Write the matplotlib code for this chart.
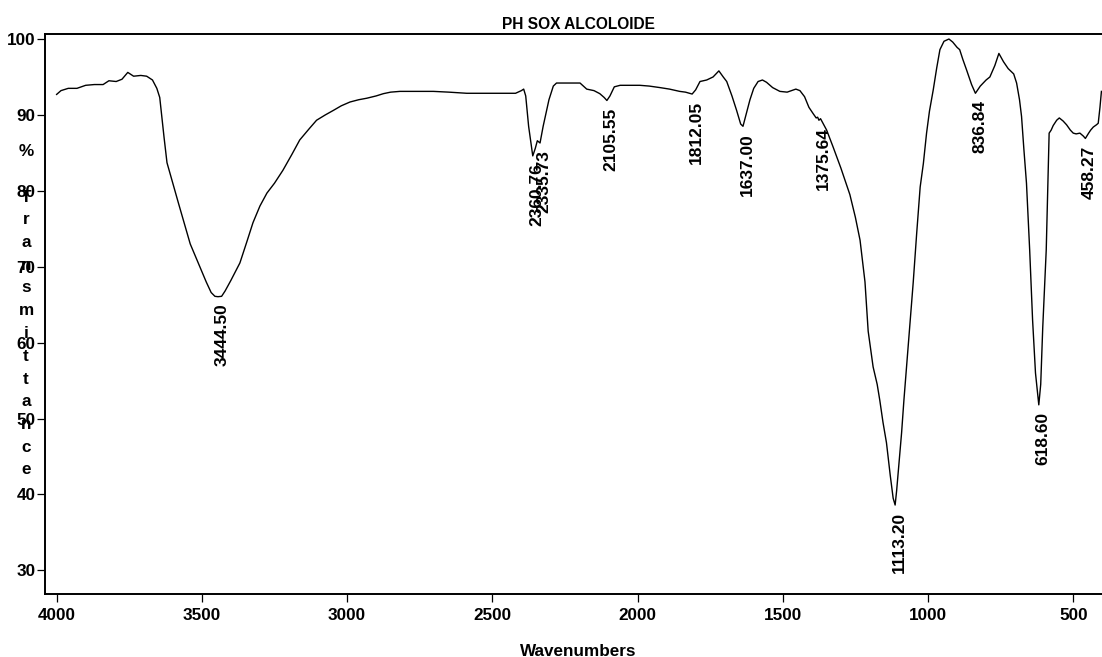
import matplotlib
matplotlib.use("Agg")
import matplotlib.pyplot as plt

# FT-IR spectrum: wavenumber (cm-1) and % transmittance
wavenumber = [
    4000, 3985, 3960, 3930, 3900, 3870, 3840, 3820, 3795, 3775, 3755, 3735,
    3710, 3690, 3670, 3655, 3645, 3630, 3620, 3600, 3580, 3564, 3540, 3507,
    3485, 3468, 3455, 3444.50, 3432, 3420, 3400, 3369, 3345, 3324, 3300, 3276,
    3250, 3221, 3190, 3163, 3130, 3105, 3075, 3047, 3020, 2990, 2960, 2932,
    2900, 2875, 2850, 2818, 2760, 2703, 2650, 2588, 2500, 2420, 2400, 2392,
    2385, 2375, 2360.76, 2352, 2345, 2335.73, 2325, 2305, 2290, 2279, 2240,
    2198, 2175, 2150, 2130, 2115, 2105.55, 2095, 2080, 2060, 2038, 1992, 1960,
    1923, 1890, 1855, 1835, 1812.05, 1800, 1785, 1762, 1740, 1720, 1705, 1693,
    1675, 1659, 1645, 1637.00, 1628, 1613, 1600, 1585, 1570, 1556, 1535, 1510,
    1485, 1470, 1455, 1441, 1425, 1410, 1396, 1385, 1380, 1375.64, 1370, 1360,
    1349, 1327, 1300, 1269, 1250, 1234, 1217, 1206, 1189, 1175, 1166, 1155,
    1143, 1130, 1120, 1113.20, 1108, 1098, 1091, 1083, 1074, 1060, 1051, 1039,
    1027, 1016, 1005, 995, 982, 970, 959, 945, 928, 915, 900, 891, 880, 867,
    850, 836.84, 820, 800, 787, 770, 756, 740, 724, 705, 695, 685, 678, 670,
    661, 650, 640, 630, 618.60, 612, 605, 598, 593, 588, 583, 576, 569, 557,
    548, 535, 523, 510, 500, 490, 477, 465, 458.27, 447, 440, 431, 420, 414,
    408, 403,
]
transmittance = [
    92.7, 93.2, 93.5, 93.5, 93.9, 94.0, 94.0, 94.5, 94.4, 94.7, 95.6, 95.1,
    95.2, 95.1, 94.6, 93.5, 92.3, 87.0, 83.7, 81.0, 78.3, 76.2, 73.0, 70.0,
    68.0, 66.6, 66.1, 66.05, 66.1, 66.8, 68.2, 70.5, 73.3, 75.8, 78.0, 79.7,
    81.0, 82.7, 84.8, 86.7, 88.2, 89.3, 90.0, 90.6, 91.2, 91.7, 92.0, 92.2,
    92.5, 92.8, 93.0, 93.1, 93.1, 93.1, 93.0, 92.85, 92.85, 92.85, 93.2, 93.4,
    92.5, 88.5, 84.6, 85.6, 86.6, 86.3, 88.5, 92.0, 93.8, 94.2, 94.2,
    94.2, 93.4, 93.2, 92.8, 92.3, 91.9, 92.5, 93.7, 93.9, 93.9, 93.9, 93.8,
    93.6, 93.4, 93.1, 93.0, 92.75, 93.3, 94.4, 94.6, 95.0, 95.8, 95.0, 94.4,
    92.5, 90.6, 88.8, 88.5, 89.8, 92.0, 93.5, 94.4, 94.6, 94.3, 93.6, 93.1,
    93.0, 93.2, 93.4, 93.2, 92.4, 91.0, 90.2, 89.6, 89.7, 89.3, 89.5, 88.8,
    88.0, 85.8, 83.0, 79.5, 76.5, 73.5, 68.0, 61.5, 56.8, 54.5, 52.4, 49.5,
    46.8, 42.5, 39.5, 38.6, 40.5, 45.0, 48.1, 52.4, 56.8, 63.5, 67.9, 74.4,
    80.5, 83.6, 87.6, 90.5, 93.3, 96.2, 98.6, 99.7, 100.0, 99.6, 98.9, 98.6,
    97.3, 95.9, 94.0, 92.85, 93.8, 94.6, 95.0, 96.5, 98.1, 97.0, 96.1, 95.4,
    94.2, 92.0, 89.8, 85.5, 81.0, 72.2, 63.0, 56.0, 51.8, 54.5, 62.0, 68.0,
    72.2, 80.0, 87.6, 88.0, 88.6, 89.3, 89.6, 89.2, 88.7, 88.0, 87.6, 87.5,
    87.6, 87.2, 86.9, 87.6, 88.0, 88.4, 88.7, 88.9, 91.0, 93.1,
]

# Labelled absorption bands
peak_labels = ["3444.50", "2360.76", "2335.73", "2105.55", "1812.05", "1637.00",
               "1375.64", "1113.20", "836.84", "618.60", "458.27"]

x_ticks = [4000, 3500, 3000, 2500, 2000, 1500, 1000, 500]
y_ticks = [30, 40, 50, 60, 70, 80, 90, 100]

title = "PH SOX ALCOLOIDE"
x_title = "Wavenumbers"
y_title = "% Transmittance"

FONT = "Liberation Sans"
W, H = 1102, 657
plt.rcParams["font.family"] = FONT
plt.rcParams["font.weight"] = "bold"

fig = plt.figure(figsize=(W / 100, H / 100), dpi=100)
ax = fig.add_axes([45 / W, 1 - 594 / H, 1 - 45 / W, (594 - 34) / H])

ax.plot(wavenumber, transmittance, color="black", lw=1.0)

ax.set_xlim(4040, 401)
ax.set_ylim(26.88, 100.66)
ax.set_xticks(x_ticks)
ax.set_yticks(y_ticks)
ax.set_xticklabels([str(t) for t in x_ticks], fontsize=12.3, fontweight="bold")
ax.set_yticklabels([str(t) for t in y_ticks], fontsize=12.3, fontweight="bold")
ax.tick_params(axis="both", direction="out", length=6, width=0.9, color="black")
ax.tick_params(axis="x", pad=4)
ax.tick_params(axis="y", pad=1)
for side in ("left", "bottom", "top"):
    ax.spines[side].set_linewidth(1.4)
ax.spines["right"].set_visible(False)

# Peak annotations hang below each band minimum
lookup = dict(zip(wavenumber, transmittance))
for lab in peak_labels:
    w = float(lab)
    v = lookup[w]
    ax.annotate(lab, xy=(w, v), xytext=(3, -5), textcoords="offset points",
                rotation=90, ha="center", va="top", fontsize=12.5,
                fontweight="bold")

fig.text(578 / W, 1 - 29.3 / H, title, ha="center", va="baseline",
         fontsize=11.2, fontweight="bold")
fig.text(578 / W, 1 - 655.5 / H, x_title, ha="center", va="baseline",
         fontsize=12.3, fontweight="bold")

# Vertical axis title written one character per line
for i, ch in enumerate(y_title):
    if ch == " ":
        continue
    fig.text(26 / W, 1 - (156 + 22.75 * i) / H, ch, ha="center",
             va="baseline", fontsize=12.3, fontweight="bold")

fig.savefig("out.png", dpi=100, facecolor="white")
